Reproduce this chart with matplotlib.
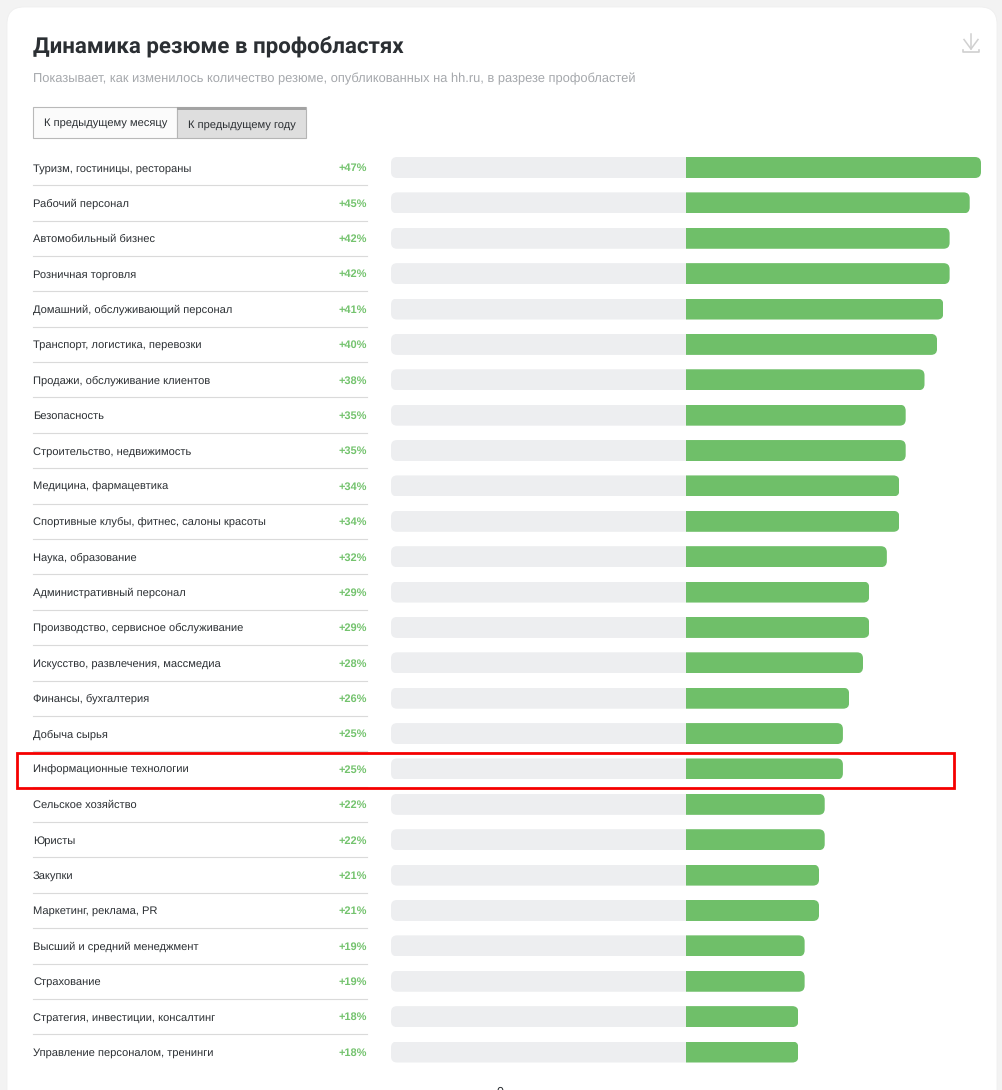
import matplotlib
matplotlib.use("Agg")
import matplotlib.pyplot as plt
from matplotlib.patches import FancyBboxPatch, Rectangle
from matplotlib.transforms import blended_transform_factory, IdentityTransform

plt.rcParams["text.hinting"] = "no_hinting"

categories = ["Туризм, гостиницы, рестораны", "Рабочий персонал", "Автомобильный бизнес",
              "Розничная торговля", "Домашний, обслуживающий персонал", "Транспорт, логистика, перевозки",
              "Продажи, обслуживание клиентов", "Безопасность", "Строительство, недвижимость",
              "Медицина, фармацевтика", "Спортивные клубы, фитнес, салоны красоты", "Наука, образование",
              "Административный персонал", "Производство, сервисное обслуживание",
              "Искусство, развлечения, массмедиа", "Финансы, бухгалтерия", "Добыча сырья",
              "Информационные технологии", "Сельское хозяйство", "Юристы", "Закупки",
              "Маркетинг, реклама, PR", "Высший и средний менеджмент", "Страхование",
              "Стратегия, инвестиции, консалтинг", "Управление персоналом, тренинги"]
values = [47, 45.2, 42, 42, 41, 40, 38, 35, 35, 34, 34, 32, 29.2, 29.2, 28.2, 26, 25, 25, 22.1, 22.1, 21.2, 21.2, 18.9, 18.9, 17.9, 17.9]
highlight = "Информационные технологии"
title = "Динамика резюме в профобластях"
subtitle = "Показывает, как изменилось количество резюме, опубликованных на hh.ru, в разрезе профобластей"
tabs = ["К предыдущему месяцу", "К предыдущему году"]

W, H = 1003, 1090
fig = plt.figure(figsize=(W / 100, H / 100), dpi=100, facecolor="#f3f3f3")
TXT = "#2b2f33"; GREEN = "#6fbf69"; PCT = "#74c36e"; GREY = "#edeef0"; FONT = "Liberation Sans"

# page decoration, in pixel coordinates
bg = fig.add_axes([0, 0, 1, 1], zorder=0)
bg.set_xlim(0, W); bg.set_ylim(H, 0); bg.axis("off")
bg.add_patch(FancyBboxPatch((7, 7), W - 13, H + 60, boxstyle="round,pad=0,rounding_size=17",
                            fc="white", ec="#efefef", lw=0.6))
bg.text(33, 47.5, title, family="Roboto", weight="bold", fontsize=16.0, color="#2b2f33", va="center")
bg.text(33, 79, subtitle, family=FONT, fontsize=9.25, color="#a5a8ac", va="center")

# tabs
bg.add_patch(Rectangle((33.5, 106.5), 144, 31, fc="#fbfbfb", ec="#b9b9b9", lw=0.8))
bg.add_patch(Rectangle((177.5, 106.5), 129, 31, fc="#dedede", ec="#b5b5b5", lw=0.8))
bg.add_patch(Rectangle((177.5, 106.5), 129, 3, fc="#a3a3a3", ec="none"))
bg.text(105.5, 122.5, tabs[0], family=FONT, fontsize=8.05, color=TXT, ha="center", va="center")
bg.text(241.5, 124.5, tabs[1], family=FONT, fontsize=8.05, color=TXT, ha="center", va="center")

# download icon
ic = "#d0d0d0"
bg.plot([971, 971], [33.5, 49], color=ic, lw=1.1)
bg.plot([964, 971, 978], [39.5, 49, 39.5], color=ic, lw=1.1)
bg.plot([963, 963, 979.5, 979.5], [49.5, 51.5, 51.5, 49.5], color=ic, lw=1.2)
bg.text(500, 1093, "0", family=FONT, fontsize=9, color=TXT, ha="center", va="center")

# bars
top_px, bot_px = 150.0, 1070.0
pitch = (1052.0 - 167.5) / 25
ax = fig.add_axes([391 / W, 1 - bot_px / H, (981 - 391) / W, (bot_px - top_px) / H], zorder=1)
ax.patch.set_alpha(0); ax.axis("off")
ax.set_xlim(-47, 47)
ax.set_ylim((bot_px - 167.5) / pitch, (top_px - 167.5) / pitch)
ypos = list(range(len(values)))
bh = 21 / pitch
grey_bars = ax.barh(ypos, [-47] * len(values), height=bh, color=GREY, lw=0)
green_bars = ax.barh(ypos, values, height=bh, color=GREEN, lw=0)

def round_clip(bar, x0, x1, r=6):
    (px0, py0), (px1, py1) = ax.transData.transform([(x0, bar.get_y()), (x1, bar.get_y() + bar.get_height())])
    clip = FancyBboxPatch((px0, min(py0, py1)), px1 - px0, abs(py1 - py0),
                          boxstyle=f"round,pad=0,rounding_size={r}", transform=IdentityTransform())
    bar.set_clip_path(clip)

for b in grey_bars:
    round_clip(b, -47, 5)
for b, v in zip(green_bars, values):
    round_clip(b, -5, v)

# row labels and separators
tx = blended_transform_factory(bg.transData, ax.transData)
for i, (c, v) in enumerate(zip(categories, values)):
    ax.text(33, i + 0.025, c, transform=tx, family=FONT, fontsize=8.0, color=TXT, va="center")
    ax.text(367, i + 0.025, f"+{round(v)}%", transform=tx, family=FONT, weight="bold", fontsize=7.9, color=PCT, ha="right", va="center")
    if i < len(values) - 1:
        ax.plot([33, 367], [i + 0.5, i + 0.5], transform=tx, color="#dadada", lw=0.8, clip_on=False)

# highlight frame
hi = categories.index(highlight)
yc = ax.transData.transform((0, hi))[1]
frame_top = H - yc - 16
bg2 = fig.add_axes([0, 0, 1, 1], zorder=2)
bg2.set_xlim(0, W); bg2.set_ylim(H, 0); bg2.axis("off"); bg2.patch.set_alpha(0)
bg2.add_patch(Rectangle((17.5, frame_top), 937, 35, fc="none", ec="#f50000", lw=2.0))

fig.savefig("out.png", dpi=100, facecolor=fig.get_facecolor())
